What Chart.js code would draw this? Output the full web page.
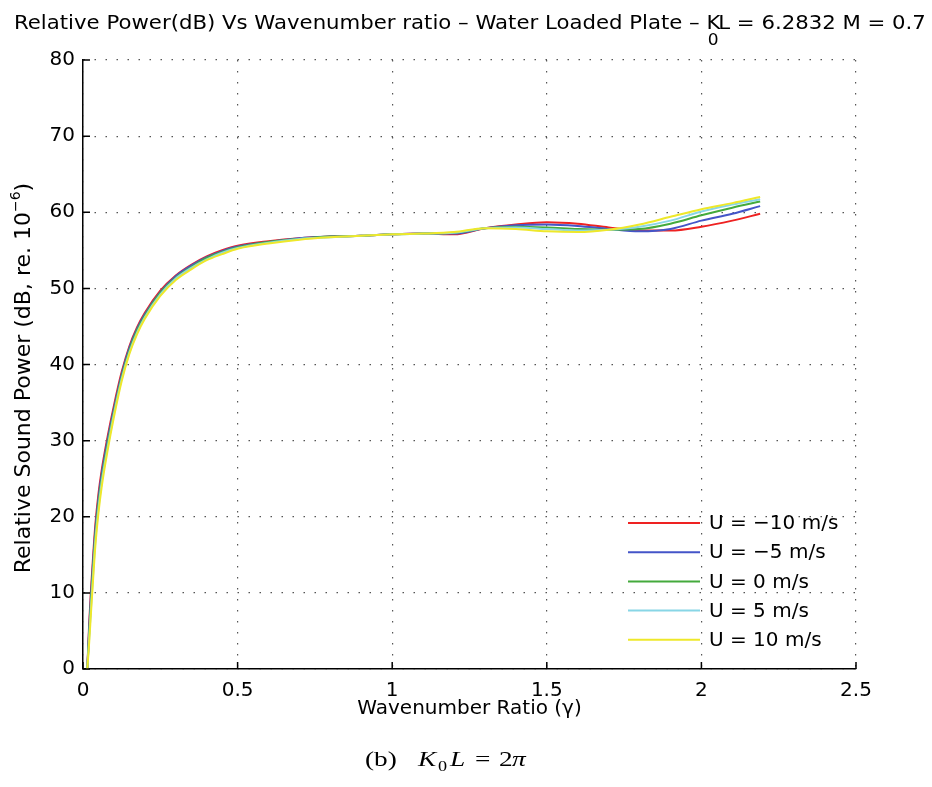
<!DOCTYPE html>
<html>
<head>
<meta charset="utf-8">
<script src="https://cdn.jsdelivr.net/npm/chart.js@4.4.0/dist/chart.umd.min.js"></script>
<style>
  html, body { margin: 0; padding: 0; background: #fff; }
  #wrap { width: 932px; height: 787px; position: relative; }
</style>
</head>
<body>
<div id="wrap"><canvas id="chart"></canvas></div>
<script>
// wavenumber ratio (x) and relative sound power in dB for each flow speed
const gamma = [0.014, 0.02, 0.026, 0.033, 0.04, 0.05, 0.06, 0.08, 0.1, 0.125, 0.15, 0.175, 0.2, 0.25, 0.3, 0.35,
  0.4, 0.45, 0.5, 0.6, 0.7, 0.8, 0.9, 1.0, 1.1, 1.2, 1.3, 1.4, 1.5, 1.6, 1.7, 1.8, 1.9, 2.0, 2.1, 2.19];
const uMinus10 = [0, 6, 10.5, 15, 19, 23, 26, 30.6, 34.6, 39.0, 42.4, 44.9, 46.8, 49.7, 51.7, 53.1,
  54.2, 55.0, 55.6, 56.2, 56.6, 56.8, 56.9, 57.1, 57.2, 57.1, 57.9, 58.4, 58.7, 58.5, 58.0, 57.6, 57.6, 58.1, 58.9, 59.8];
const uMinus5 = [0, 5.4, 9.8, 14.3, 18.3, 22.4, 25.5, 30.2, 34.2, 38.7, 42.2, 44.7, 46.6, 49.5, 51.6, 53.0,
  54.1, 54.9, 55.5, 56.1, 56.6, 56.8, 56.9, 57.1, 57.2, 57.2, 57.9, 58.3, 58.4, 58.2, 57.8, 57.5, 57.8, 58.9, 59.8, 60.8];
const uZero = [0, 4.8, 9.0, 13.5, 17.6, 21.8, 24.9, 29.7, 33.8, 38.4, 41.9, 44.5, 46.4, 49.4, 51.4, 52.8,
  54.0, 54.8, 55.4, 56.1, 56.5, 56.8, 56.9, 57.1, 57.2, 57.3, 57.9, 58.1, 58.0, 57.8, 57.7, 57.8, 58.5, 59.6, 60.6, 61.4];
const uPlus5 = [0, 4.1, 8.2, 12.7, 16.9, 21.1, 24.4, 29.2, 33.5, 38.1, 41.6, 44.2, 46.2, 49.2, 51.3, 52.7,
  53.8, 54.7, 55.3, 56.0, 56.5, 56.7, 56.9, 57.1, 57.2, 57.3, 57.9, 58.0, 57.8, 57.6, 57.7, 58.1, 58.9, 60.1, 61.0, 61.7];
const uPlus10 = [0, 3.5, 7.5, 12, 16.2, 20.5, 23.8, 28.8, 33.1, 37.8, 41.4, 44.0, 46.0, 49.0, 51.1, 52.5,
  53.7, 54.5, 55.2, 55.9, 56.4, 56.7, 56.9, 57.1, 57.2, 57.4, 57.9, 57.8, 57.5, 57.4, 57.7, 58.4, 59.4, 60.4, 61.2, 62.0];

const seriesLabels = ["U = \u221210 m/s", "U = \u22125 m/s", "U = 0 m/s", "U = 5 m/s", "U = 10 m/s"];
const seriesColors = ["#ee2222", "#4455c8", "#44aa3c", "#88d6e6", "#eee82a"];
const xTickValues = [0, 0.5, 1, 1.5, 2, 2.5];
const yTickValues = [0, 10, 20, 30, 40, 50, 60, 70, 80];

const sans = "'DejaVu Sans', sans-serif";
const serif = "'Liberation Serif', 'Times New Roman', serif";
const allSeries = [uMinus10, uMinus5, uZero, uPlus5, uPlus10];

const datasets = allSeries.map((vals, i) => ({
  label: seriesLabels[i],
  data: gamma.map((g, j) => ({ x: g, y: vals[j] })),
  borderColor: seriesColors[i],
  backgroundColor: seriesColors[i],
  borderWidth: 2,
  pointRadius: 0,
  cubicInterpolationMode: "monotone",
  fill: false,
  order: allSeries.length - i
}));

// text drawn a bit wider than the font, like the figure
function wideText(ctx, txt, x, y, sx) {
  ctx.save();
  ctx.translate(x, y);
  ctx.scale(sx, 1);
  ctx.fillText(txt, 0, 0);
  ctx.restore();
}

// matlab style bits: inward ticks, in-plot legend, titles and caption
const decor = {
  id: "decor",
  afterDraw(chart) {
    const { ctx, chartArea: a, scales: { x, y } } = chart;
    ctx.save();
    ctx.strokeStyle = "#000";
    ctx.lineWidth = 1.5;
    ctx.beginPath();
    xTickValues.forEach(v => {
      const px = x.getPixelForValue(v);
      ctx.moveTo(px, a.bottom);
      ctx.lineTo(px, a.bottom - 7);
    });
    yTickValues.forEach(v => {
      const py = y.getPixelForValue(v);
      ctx.moveTo(a.left, py);
      ctx.lineTo(a.left + 7, py);
    });
    ctx.stroke();

    // legend
    ctx.font = "20px " + sans;
    ctx.textBaseline = "middle";
    ctx.textAlign = "left";
    seriesLabels.forEach((lab, i) => {
      const ly = a.bottom - 146 + i * 29.2;
      ctx.strokeStyle = seriesColors[i];
      ctx.lineWidth = 2;
      ctx.beginPath();
      ctx.moveTo(a.right - 228, ly);
      ctx.lineTo(a.right - 156, ly);
      ctx.stroke();
      ctx.fillStyle = "#000";
      ctx.fillText(lab, a.right - 147, ly + 1);
    });

    // title, fitted to the width it has in the figure
    const t1 = "Relative Power(dB) Vs Wavenumber ratio \u2013 Water Loaded Plate \u2013 K";
    const t2 = "L = 6.2832 M = 0.7";
    ctx.font = "20px " + sans;
    ctx.textBaseline = "alphabetic";
    const w1 = ctx.measureText(t1).width;
    const w = w1 + ctx.measureText(t2).width;
    ctx.save();
    ctx.translate(14, 29);
    ctx.scale(914 / w, 1);
    ctx.fillText(t1, 0, 0);
    ctx.fillText(t2, w1 - 2, 0);
    ctx.font = "16px " + sans;
    ctx.fillText("0", w1 - 12, 16);
    ctx.restore();

    // y axis title with superscript
    const yMain = "Relative Sound Power (dB, re. 10";
    ctx.save();
    ctx.translate(30, 378);
    ctx.rotate(-Math.PI / 2);
    ctx.font = "22px " + sans;
    const wm = ctx.measureText(yMain).width;
    ctx.font = "14px " + sans;
    const ws = ctx.measureText("\u22126").width;
    ctx.font = "22px " + sans;
    const wp = ctx.measureText(")").width;
    let sx0 = -(wm + ws + wp) / 2;
    ctx.fillText(yMain, sx0, 0);
    ctx.font = "14px " + sans;
    ctx.fillText("\u22126", sx0 + wm, -10);
    ctx.font = "22px " + sans;
    ctx.fillText(")", sx0 + wm + ws, 0);
    ctx.restore();

    // caption
    ctx.font = "21px " + serif;
    wideText(ctx, "(b)", 365, 766, 1.3);
    ctx.font = "italic 21px " + serif;
    wideText(ctx, "K", 418, 766, 1.3);
    ctx.font = "14px " + serif;
    wideText(ctx, "0", 438, 771, 1.3);
    ctx.font = "italic 21px " + serif;
    wideText(ctx, "L", 450, 766, 1.3);
    ctx.font = "21px " + serif;
    wideText(ctx, "=", 475, 766, 1.3);
    wideText(ctx, "2", 499, 766, 1.3);
    ctx.font = "italic 21px " + serif;
    wideText(ctx, "\u03c0", 512, 766, 1.3);
    ctx.restore();
  }
};

const gridDots = { color: "#555", lineWidth: 1.2, drawTicks: false };

new Chart(document.getElementById("chart"), {
  type: "line",
  data: { datasets },
  options: {
    responsive: true,
    maintainAspectRatio: false,
    animation: false,
    devicePixelRatio: 1,
    layout: { padding: { top: 60, right: 76, bottom: 0, left: 0 } },
    plugins: {
      legend: { display: false },
      title: { display: false },
      tooltip: { enabled: false }
    },
    scales: {
      x: {
        type: "linear",
        min: 0,
        max: 2.5,
        afterBuildTicks: s => { s.ticks = xTickValues.map(v => ({ value: v })); },
        afterFit: s => { s.height = 118; },
        ticks: {
          color: "#000", font: { family: sans, size: 20 }, padding: 10, maxRotation: 0, autoSkip: false,
          callback: v => String(v)
        },
        grid: gridDots,
        border: { display: true, color: "#000", width: 1.5, dash: [1.5, 9.5] },
        title: {
          display: true,
          text: "Wavenumber Ratio (\u03b3)",
          color: "#000",
          font: { family: sans, size: 20 },
          padding: { top: 0, bottom: 66 }
        }
      },
      y: {
        min: 0,
        max: 80,
        afterBuildTicks: s => { s.ticks = yTickValues.map(v => ({ value: v })); },
        afterFit: s => { s.width = 83; },
        ticks: { color: "#000", font: { family: sans, size: 20 }, padding: 8 },
        grid: gridDots,
        border: { display: true, color: "#000", width: 1.5, dash: [1.5, 9.5] }
      }
    }
  },
  plugins: [decor]
});
</script>
</body>
</html>
